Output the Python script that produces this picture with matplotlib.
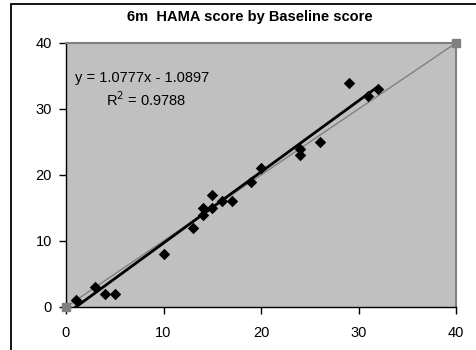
import matplotlib
matplotlib.use("Agg")
import matplotlib.pyplot as plt
from matplotlib.patches import Rectangle
import numpy as np

plt.rcParams['font.family'] = ['Liberation Sans', 'DejaVu Sans']

# Baseline HAMA score vs 6-month HAMA score
baseline = [1, 3, 4, 5, 10, 13, 14, 14, 15, 15, 16, 17, 19, 20, 24, 24, 26, 29, 31, 32]
six_month = [1, 3, 2, 2, 8, 12, 14, 15, 15, 17, 16, 16, 19, 21, 23, 24, 25, 34, 32, 33]

# Line of identity
identity_x = [0, 40]
identity_y = [0, 40]

# Linear trend line coefficients
slope = 1.0777
intercept = -1.0897
r_squared = 0.9788

x_ticks = [0, 10, 20, 30, 40]
y_ticks = [0, 10, 20, 30, 40]

W, H = 477, 350
fig = plt.figure(figsize=(W / 100, H / 100), dpi=100)
fig.patch.set_facecolor('white')

# Chart-area frame (runs off the right and bottom edges)
top = 1 - 3.5 / H
fig.patches.append(Rectangle((11 / W, -0.05), 1.2, top + 0.05,
                             transform=fig.transFigure, fill=False,
                             edgecolor='black', linewidth=1.3))

ax = fig.add_axes([66 / W, (H - 307) / H, 390 / W, 264 / H])
ax.set_facecolor('#C0C0C0')
ax.set_xlim(0, 40)
ax.set_ylim(0, 40)

ax.plot(identity_x, identity_y, color='#808080', linewidth=1.0,
        marker='s', markersize=5.5, markerfacecolor='#808080',
        markeredgecolor='#808080', clip_on=False, zorder=3)

ax.scatter(baseline, six_month, marker='D', s=34, color='black',
           linewidths=0, zorder=4)

x_start = -intercept / slope
x_end = max(baseline)
tx = np.array([x_start, x_end])
ax.plot(tx, slope * tx + intercept, color='black', linewidth=2.0, zorder=5)

ax.set_xticks(x_ticks)
ax.set_yticks(y_ticks)
ax.tick_params(direction='out', length=5, width=1, labelsize=10.5,
               colors='black')
ax.tick_params(axis='x', pad=9)
ax.tick_params(axis='y', pad=5)

for side in ('left', 'bottom'):
    ax.spines[side].set_color('black')
    ax.spines[side].set_linewidth(1.0)
for side in ('top', 'right'):
    ax.spines[side].set_color('#808080')
    ax.spines[side].set_linewidth(1.5)

fig.text(250 / W, 1 - 17 / H, '6m  HAMA score by Baseline score',
         ha='center', va='center', fontsize=10.5, fontweight='bold')

fig.text(75 / W, 1 - 78 / H, f'y = {slope:.4f}x - {-intercept:.4f}',
         ha='left', va='center', fontsize=10.5)
fig.text(106 / W, 1 - 100 / H, f'R$^2$ = {r_squared:.4f}',
         ha='left', va='center', fontsize=10.5)

fig.savefig('out.png', dpi=100)
